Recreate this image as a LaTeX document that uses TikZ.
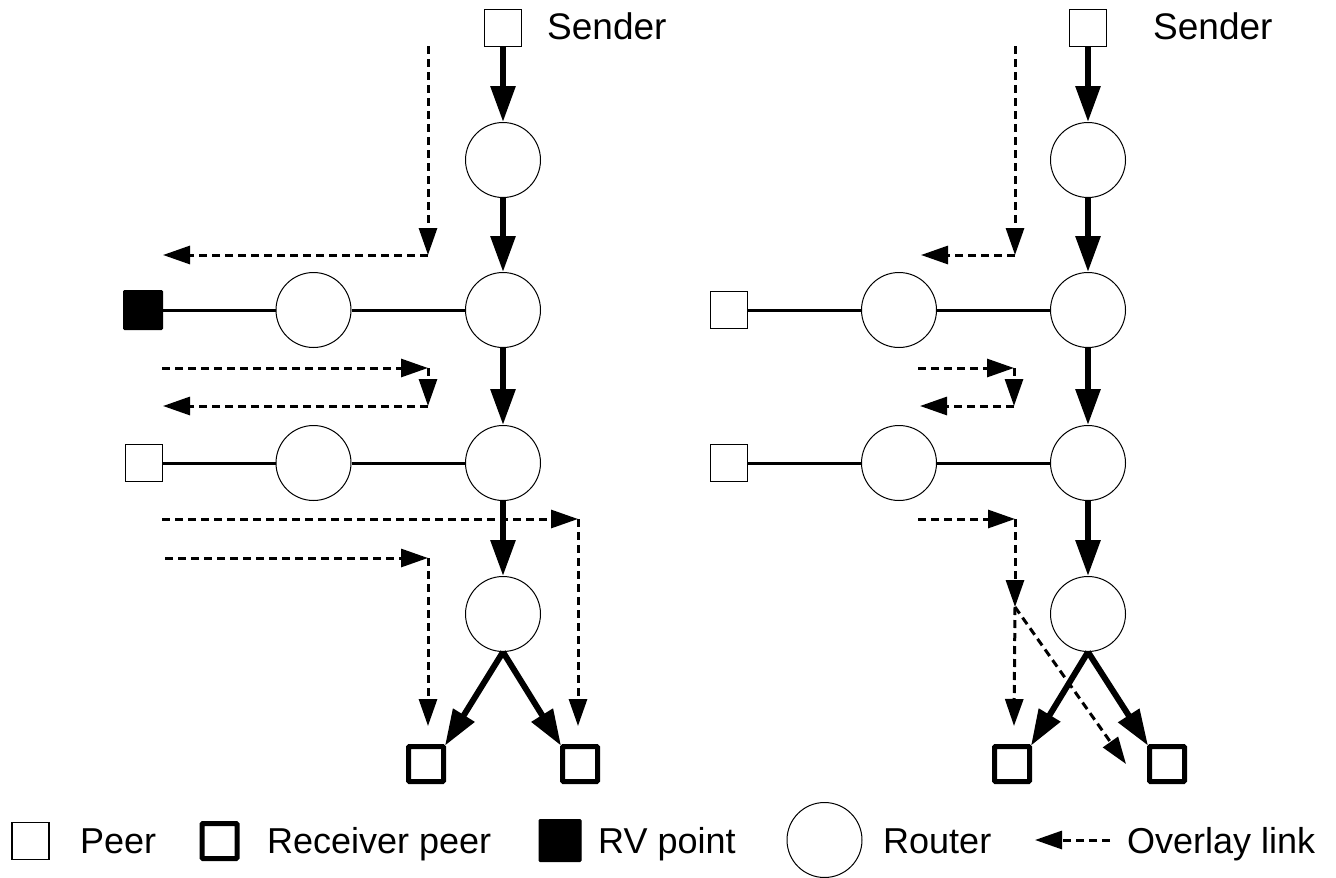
\documentclass[tikz,border=0pt]{standalone}
\usepackage{fontspec}
\setmainfont{Liberation Sans}
\usetikzlibrary{arrows.meta}
\tikzset{
  router/.style={circle,draw,line width=1pt,minimum size=75pt,inner sep=0pt},
  peer/.style={rectangle,draw,line width=1.6pt,minimum size=37pt,inner sep=0pt},
  recv/.style={rectangle,draw,line width=5pt,rounded corners=1pt,minimum size=35pt,inner sep=0pt},
  rv/.style={rectangle,draw,fill=black,line width=1pt,rounded corners=1pt,minimum size=39pt,inner sep=0pt},
  flow/.style={line width=6pt,-{Triangle[length=36pt,width=24pt]}},
  link/.style={line width=3pt},
  ov/.style={line width=3pt,dash pattern=on 8pt off 5pt,-{Triangle[length=27pt,width=18pt]}},
  lbl/.style={anchor=base west,inner sep=0pt,font=\fontsize{37}{44}\selectfont},
  lglbl/.style={anchor=base west,inner sep=0pt,font=\fontsize{36}{43}\selectfont}
}
\begin{document}
\begin{tikzpicture}[x=1pt,y=-1pt]
\useasboundingbox (0,0) rectangle (1336,878);
% ---------- left diagram ----------
\node[peer] (sendL) at (503,28) {};
\node[lbl] (sendLt) at (547,39) {Sender};
\node[router] (r1L) at (503,160) {};
\node[router] (r2L) at (503,310) {};
\node[router] (r3L) at (503,463) {};
\node[router] (r4L) at (503,614) {};
\node[rv] (rvL) at (143,310) {};
\node[router] (m1L) at (313.5,310) {};
\node[peer] (pL) at (144,463) {};
\node[router] (m2L) at (313.5,463) {};
\node[recv] (recL1) at (426,764) {};
\node[recv] (recL2) at (580,764) {};
\draw[link] (rvL) -- (m1L) -- (r2L);
\draw[link] (pL) -- (m2L) -- (r3L);
\draw[flow] (sendL) -- (r1L);
\draw[flow] (r1L) -- (r2L);
\draw[flow] (r2L) -- (r3L);
\draw[flow] (r3L) -- (r4L);
\draw[flow,shorten >=-2pt] (r4L.south) -- (recL1.north east);
\draw[flow,shorten >=-2pt] (r4L.south) -- (recL2.north west);
% overlay links left
\coordinate (aL0) at (428,46);
\coordinate (aL1) at (428,255);
\coordinate (aL2) at (163,255);
\draw[ov] (aL0) -- (aL1);
\draw[ov] (aL1) -- (aL2);
\coordinate (bL0) at (162,368);
\coordinate (bL1) at (428,368);
\coordinate (bL2) at (428,406);
\coordinate (bL3) at (163,406);
\draw[ov] (bL0) -- (bL1);
\draw[ov] (bL1) -- (bL2);
\draw[ov] (bL2) -- (bL3);
\coordinate (cL0) at (162,519);
\coordinate (cL1) at (578,519);
\coordinate (cL2) at (578,726);
\draw[ov] (cL0) -- (cL1);
\draw[ov] (cL1) -- (cL2);
\coordinate (dL0) at (165,558);
\coordinate (dL1) at (428,558);
\coordinate (dL2) at (428,726);
\draw[ov] (dL0) -- (dL1);
\draw[ov] (dL1) -- (dL2);
% ---------- right diagram ----------
\node[peer] (sendR) at (1088,28) {};
\node[lbl] (sendRt) at (1153,39) {Sender};
\node[router] (r1R) at (1088,160) {};
\node[router] (r2R) at (1088,310) {};
\node[router] (r3R) at (1088,463) {};
\node[router] (r4R) at (1088,614) {};
\node[peer] (pR1) at (729,310) {};
\node[router] (m1R) at (899,310) {};
\node[peer] (pR2) at (729,463) {};
\node[router] (m2R) at (899,463) {};
\node[recv] (recR1) at (1012,764) {};
\node[recv] (recR2) at (1167,764) {};
\draw[link] (pR1) -- (m1R) -- (r2R);
\draw[link] (pR2) -- (m2R) -- (r3R);
\draw[flow] (sendR) -- (r1R);
\draw[flow] (r1R) -- (r2R);
\draw[flow] (r2R) -- (r3R);
\draw[flow] (r3R) -- (r4R);
\draw[flow,shorten >=-2pt] (r4R.south) -- (recR1.north east);
\draw[flow,shorten >=-2pt] (r4R.south) -- (recR2.north west);
% overlay links right
\coordinate (aR0) at (1015,46);
\coordinate (aR1) at (1015,255);
\coordinate (aR2) at (921,255);
\draw[ov] (aR0) -- (aR1);
\draw[ov] (aR1) -- (aR2);
\coordinate (bR0) at (918,368);
\coordinate (bR1) at (1014,368);
\coordinate (bR2) at (1014,406);
\coordinate (bR3) at (920,406);
\draw[ov] (bR0) -- (bR1);
\draw[ov] (bR1) -- (bR2);
\draw[ov] (bR2) -- (bR3);
\coordinate (cR0) at (918,519);
\coordinate (cR1) at (1015,519);
\coordinate (cR2) at (1015,607);
\coordinate (cR3) at (1014,726);
\coordinate (cR4) at (1126,764);
\draw[ov] (cR0) -- (cR1);
\draw[ov] (cR1) -- (cR2);
\draw[ov] (cR2) -- (cR3);
\draw[ov] (cR2) -- (cR4);
% ---------- legend ----------
\node[peer] (lgPeer) at (30.5,841) {};
\node[lglbl] (lgPeerT) at (80,853) {Peer};
\node[recv] (lgRecv) at (219.5,841) {};
\node[lglbl] (lgRecvT) at (267,853) {Receiver peer};
\node[rv,minimum size=42pt] (lgRV) at (560,840.5) {};
\node[lglbl] (lgRVT) at (598,853) {RV point};
\node[router] (lgRouter) at (824.5,840) {};
\node[lglbl] (lgRouterT) at (883,853) {Router};
\coordinate (lgA0) at (1110,840);
\coordinate (lgA1) at (1035,840);
\draw[ov] (lgA0) -- (lgA1);
\node[lglbl] (lgOvT) at (1127,853) {Overlay link};
\end{tikzpicture}
\end{document}
